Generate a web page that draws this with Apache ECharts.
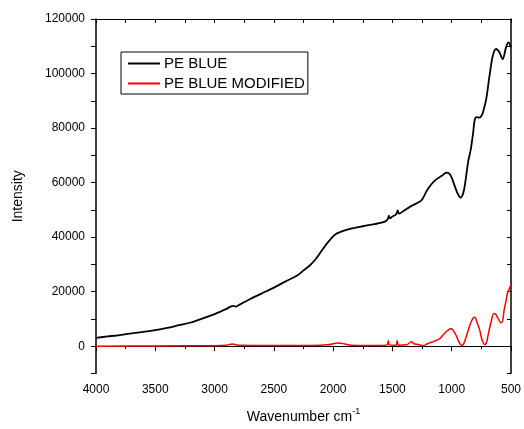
<!DOCTYPE html>
<html>
<head>
<meta charset="utf-8">
<script src="https://cdn.jsdelivr.net/npm/echarts@6/dist/echarts.min.js"></script>
<style>
  html, body { margin: 0; padding: 0; background: #fff; }
  #main { width: 524px; height: 429px; }
</style>
</head>
<body>
<div id="main"></div>
<script>
// PE BLUE spectrum (wavenumber, intensity)
var blueWave = [4000, 3900, 3800, 3700, 3600, 3500, 3400, 3300, 3200, 3100, 3000, 2950, 2900, 2860, 2840, 2820, 2800,
  2700, 2600, 2500, 2400, 2300, 2250, 2200, 2150, 2100, 2050, 2000, 1970, 1950, 1920, 1900, 1850, 1800, 1750, 1700, 1650,
  1600, 1560, 1540, 1530, 1520, 1500, 1470, 1455, 1445, 1400, 1350, 1300, 1260, 1240, 1210, 1170, 1130, 1080, 1045,
  1020, 1000, 975, 950, 925, 905, 890, 870, 860, 840, 820, 806, 790, 765, 745, 736, 709, 681, 653, 625, 598, 570,
  542, 522, 500];
var blueVal = [3100, 3600, 4100, 4700, 5300, 5900, 6700, 7700, 8700, 10200, 11800, 12700, 13700, 14600, 14800, 14500, 15000,
  17300, 19400, 21500, 23800, 26000, 27800, 29500, 31800, 34800, 37800, 40300, 41300, 41700, 42200, 42500, 43100, 43600, 44000, 44400, 44800,
  45200, 45800, 46600, 47900, 46900, 47600, 48300, 49800, 48600, 49800, 51200, 52300, 53300, 54500, 57000, 59500, 61200, 62600, 63700,
  63300, 61800, 58800, 56000, 54500, 55800, 58800, 65000, 68000, 72000, 78000, 83000, 84000, 83800, 84800, 85800, 90600, 99200, 106600, 109000, 107800, 105300,
  109600, 111400, 109600];

// PE BLUE MODIFIED spectrum
var modWave = [4000, 3500, 3000, 2900, 2850, 2800, 2500, 2200, 2050, 1980, 1950, 1900, 1850, 1700, 1600, 1545, 1535, 1525,
  1470, 1460, 1450, 1380, 1340, 1320, 1280, 1240, 1200, 1150, 1100, 1070, 1040, 1010, 990, 960, 935, 918, 900, 876,
  845, 820, 805, 785, 765, 745, 723, 705, 695, 670, 645, 630, 612, 585, 570, 557, 540, 529, 515, 500];
var modVal = [0, 100, 200, 400, 800, 400, 300, 300, 500, 1100, 1200, 800, 400, 300, 300, 500, 2000, 500,
  400, 2000, 400, 500, 1600, 900, 600, 200, 1000, 1800, 2800, 4300, 5600, 6400, 6000, 3700, 1200, 300, 800, 3700,
  8000, 10300, 10600, 8500, 6100, 2500, 600, 1500, 3700, 8500, 12000, 11800, 10400, 8600, 9500, 13500, 17000, 19600, 21000, 22500];

function pairs(xs, ys) {
  return xs.map(function (x, i) { return [x, ys[i]]; });
}

var myChart = echarts.init(document.getElementById('main'));
var font = 'Arial, "Liberation Sans", sans-serif';

var option = {
  animation: false,
  backgroundColor: '#fff',
  grid: { left: 96, right: 9, top: 19, bottom: 55 },
  legend: {
    orient: 'vertical',
    left: 121, top: 52,
    borderColor: '#000', borderWidth: 1,
    padding: [4, 3, 3, 7],
    itemGap: 5,
    itemWidth: 32, itemHeight: 2,
    icon: 'rect',
    textStyle: { fontFamily: font, fontSize: 15, color: '#000', padding: [0, 0, 0, -1] },
    data: ['PE BLUE', 'PE BLUE MODIFIED']
  },
  xAxis: [{
    type: 'value', inverse: true, min: 500, max: 4000, interval: 500,
    name: 'Wavenumber cm{sup|-1}', nameLocation: 'middle', nameGap: 34,
    nameTextStyle: {
      fontFamily: font, fontSize: 14, color: '#000',
      rich: { sup: { fontFamily: font, fontSize: 9, verticalAlign: 'top', padding: [0, 0, 10, 0], color: '#000' } }
    },
    axisLine: { lineStyle: { color: '#000', width: 1 } },
    axisTick: { length: 5, lineStyle: { color: '#000' } },
    minorTick: { show: true, splitNumber: 2, length: 3, lineStyle: { color: '#000' } },
    axisLabel: {
      fontFamily: font, fontSize: 12, color: '#000', margin: 10,
      formatter: function (v) { return String(v); }
    },
    splitLine: { show: false }
  }, {
    type: 'value', inverse: true, min: 500, max: 4000, interval: 250, position: 'top',
    axisLine: { onZero: false, lineStyle: { color: '#000', width: 1 } },
    axisTick: { inside: true, length: 4, lineStyle: { color: '#000' } },
    axisLabel: { show: false },
    splitLine: { show: false }
  }],
  yAxis: [{
    type: 'value', min: -10000, max: 120000, interval: 10000,
    name: 'Intensity', nameLocation: 'middle', nameGap: 71,
    nameTextStyle: { fontFamily: font, fontSize: 14, color: '#000' },
    axisLine: { show: true, onZero: false, lineStyle: { color: '#000', width: 1.5 } },
    axisTick: { length: 5, lineStyle: { color: '#000' } },
    axisLabel: {
      fontFamily: font, fontSize: 12, color: '#000', margin: 11,
      formatter: function (v) { return v % 20000 === 0 ? String(v) : ''; }
    },
    splitLine: { show: false }
  }, {
    type: 'value', min: -10000, max: 120000, interval: 10000, position: 'right',
    axisLine: { show: true, onZero: false, lineStyle: { color: '#000', width: 1.5 } },
    axisTick: { inside: true, length: 4, lineStyle: { color: '#000' } },
    axisLabel: { show: false },
    splitLine: { show: false }
  }],
  series: [{
    name: 'PE BLUE', type: 'line', showSymbol: false, smooth: 0.3,
    itemStyle: { color: '#000' },
    lineStyle: { color: '#000', width: 1.8 },
    data: pairs(blueWave, blueVal)
  }, {
    name: 'PE BLUE MODIFIED', type: 'line', showSymbol: false, smooth: 0.3,
    itemStyle: { color: '#ff0000' },
    lineStyle: { color: '#ff0000', width: 1.5 },
    data: pairs(modWave, modVal)
  }]
};

myChart.setOption(option);
</script>
</body>
</html>
